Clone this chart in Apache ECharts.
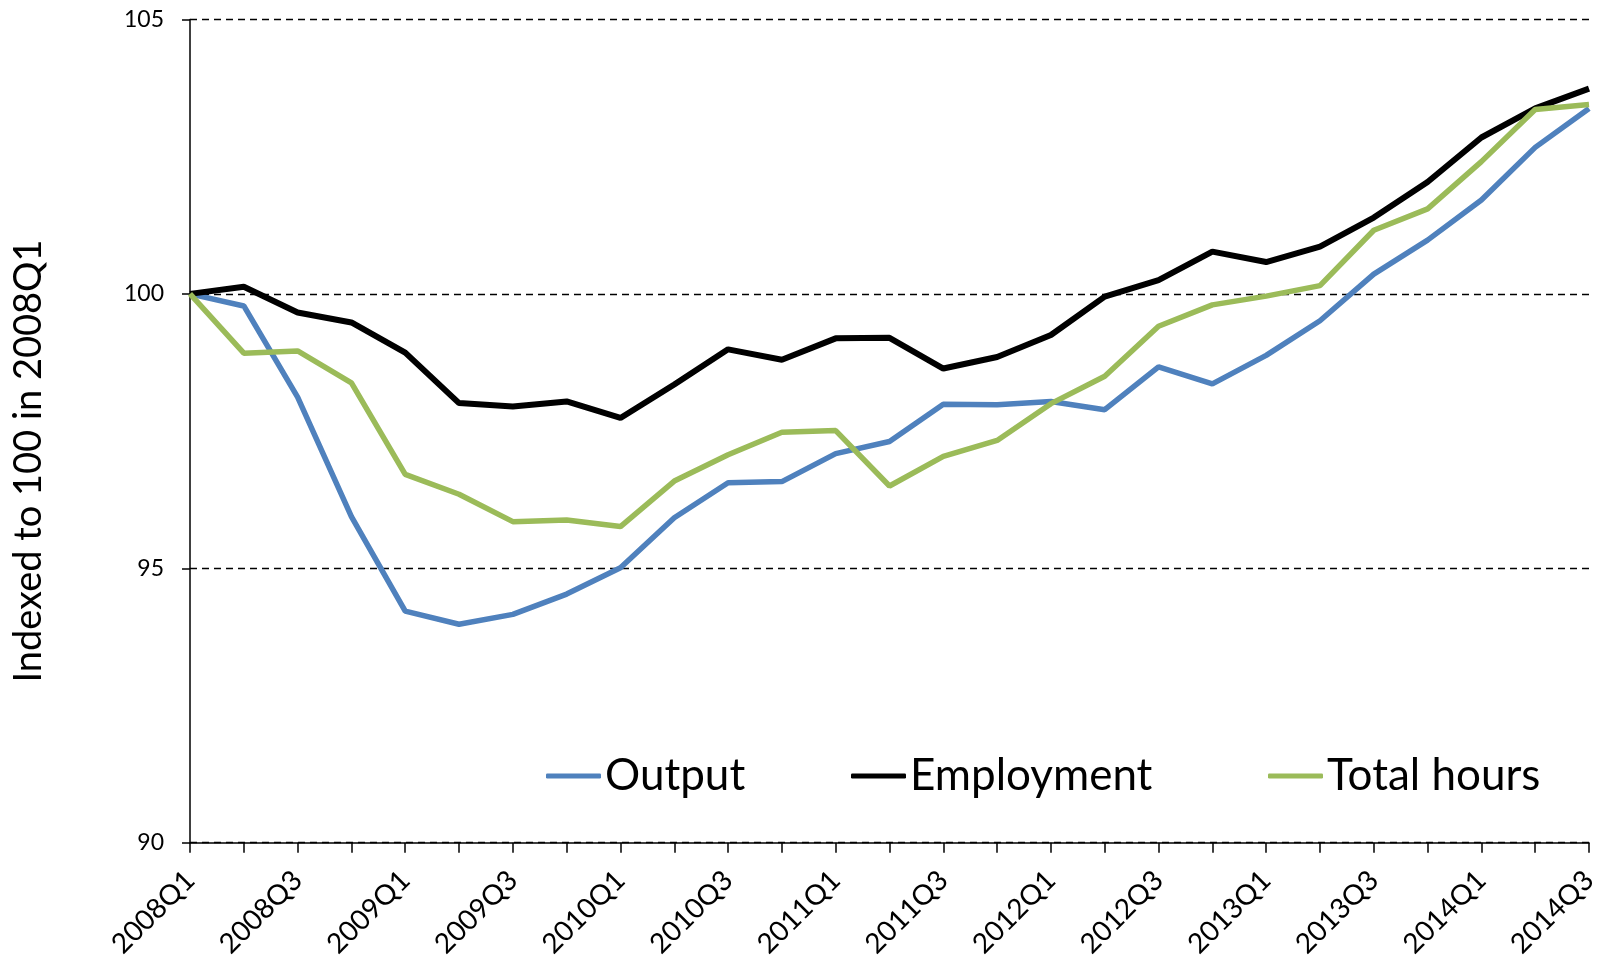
<!DOCTYPE html>
<html>
<head>
<meta charset="utf-8">
<script src="https://cdn.jsdelivr.net/npm/echarts@6/dist/echarts.min.js"></script>
<style>
html,body{margin:0;padding:0;background:#fff;}
#chart{width:1603px;height:958px;}
</style>
</head>
<body>
<div id="chart"></div>
<script>
const categories = ['2008Q1','2008Q2','2008Q3','2008Q4','2009Q1','2009Q2','2009Q3','2009Q4',
  '2010Q1','2010Q2','2010Q3','2010Q4','2011Q1','2011Q2','2011Q3','2011Q4',
  '2012Q1','2012Q2','2012Q3','2012Q4','2013Q1','2013Q2','2013Q3','2013Q4',
  '2014Q1','2014Q2','2014Q3'];
const output = [100, 99.78, 98.12, 95.94, 94.22, 93.98, 94.16, 94.53, 95.01, 95.92, 96.56, 96.58, 97.09, 97.31, 97.99, 97.98, 98.04, 97.89, 98.67, 98.36, 98.88, 99.51, 100.36, 100.98, 101.71, 102.67, 103.38];
const employment = [100, 100.13, 99.66, 99.48, 98.93, 98.01, 97.95, 98.04, 97.74, 98.35, 98.99, 98.80, 99.19, 99.20, 98.64, 98.85, 99.25, 99.95, 100.25, 100.77, 100.58, 100.86, 101.39, 102.04, 102.85, 103.38, 103.74];
const totalHours = [100, 98.92, 98.96, 98.38, 96.71, 96.35, 95.85, 95.88, 95.76, 96.59, 97.07, 97.48, 97.51, 96.50, 97.04, 97.33, 98.00, 98.50, 99.41, 99.80, 99.96, 100.15, 101.16, 101.55, 102.41, 103.36, 103.45];
const yTicks = {min: 90, max: 105, interval: 5};
const yTitle = 'Indexed to 100 in 2008Q1';
const seriesNames = ['Output', 'Employment', 'Total hours'];

const FONT = 'Lato, "Open Sans", sans-serif';
const colors = ['#4F81BD', '#000000', '#9BBB59'];

const chart = echarts.init(document.getElementById('chart'), null, {renderer: 'canvas'});
const legendLefts = [546, 851, 1268];
const option = {
  animation: false,
  backgroundColor: '#ffffff',
  grid: {left: 190, right: 14, top: 19.5, bottom: 115.3, containLabel: false, outerBoundsMode: 'none'},
  xAxis: {
    type: 'category',
    data: categories,
    boundaryGap: false,
    axisLine: {lineStyle: {color: '#000', width: 1.5}},
    axisTick: {show: true, interval: 0, length: 10, inside: false, lineStyle: {color: '#000', width: 1.5}},
    axisLabel: {interval: 1, rotate: 45, margin: 33, fontSize: 28, fontFamily: FONT, color: '#000'},
    splitLine: {show: false}
  },
  yAxis: {
    type: 'value',
    min: yTicks.min, max: yTicks.max, interval: yTicks.interval,
    axisLine: {show: true, lineStyle: {color: '#000', width: 1.5}},
    axisTick: {show: true, length: 8, lineStyle: {color: '#000', width: 1.5}},
    axisLabel: {margin: 26, fontSize: 23, fontFamily: FONT, color: '#000'},
    splitLine: {show: true, lineStyle: {color: '#000', width: 1.4, type: [7, 5]}}
  },
  legend: seriesNames.map((n, i) => ({
    data: [n],
    left: legendLefts[i],
    top: 754,
    padding: 0,
    itemWidth: 55,
    itemHeight: 5,
    icon: 'roundRect',
    itemGap: 0,
    textStyle: {fontSize: 44, fontFamily: FONT, color: '#000', lineHeight: 43, padding: [0,0,0,-1]}
  })),
  graphic: [{
    type: 'text',
    x: 29, y: 461,
    rotation: Math.PI / 2,
    style: {text: yTitle, fontSize: 38, fontFamily: FONT, fill: '#000', textAlign: 'center', textVerticalAlign: 'middle'}
  }],
  series: [
    {name: seriesNames[0], type: 'line', data: output, showSymbol: false, symbol: 'none', lineStyle: {color: colors[0], width: 5.5}, itemStyle: {color: colors[0]}},
    {name: seriesNames[1], type: 'line', data: employment, showSymbol: false, symbol: 'none', lineStyle: {color: colors[1], width: 6}, itemStyle: {color: colors[1]}},
    {name: seriesNames[2], type: 'line', data: totalHours, showSymbol: false, symbol: 'none', lineStyle: {color: colors[2], width: 5.5}, itemStyle: {color: colors[2]}}
  ]
};
chart.setOption(option);
</script>
</body>
</html>
